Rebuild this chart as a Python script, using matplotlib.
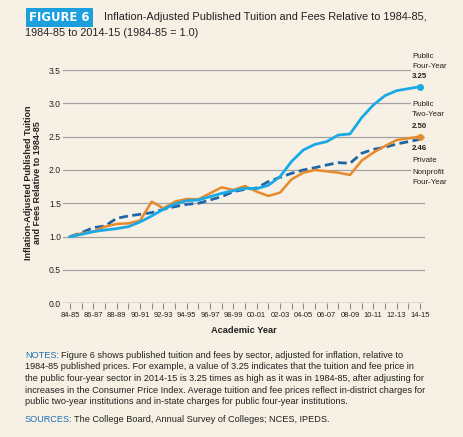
import numpy as np
import matplotlib.pyplot as plt

# --- data (1984-85 = 1.0) ---
years = ["84-85", "85-86", "86-87", "87-88", "88-89", "89-90", "90-91", "91-92",
         "92-93", "93-94", "94-95", "95-96", "96-97", "97-98", "98-99", "99-00",
         "00-01", "01-02", "02-03", "03-04", "04-05", "05-06", "06-07", "07-08",
         "08-09", "09-10", "10-11", "11-12", "12-13", "13-14", "14-15"]

public_four = [1.00, 1.035, 1.075, 1.10, 1.12, 1.15, 1.22, 1.31, 1.41, 1.49,
               1.54, 1.55, 1.60, 1.65, 1.69, 1.725, 1.72, 1.77, 1.90, 2.13,
               2.30, 2.385, 2.425, 2.525, 2.54, 2.785, 2.975, 3.115, 3.19, 3.22, 3.25]
public_two = [1.00, 1.05, 1.075, 1.15, 1.19, 1.20, 1.24, 1.525, 1.425, 1.525,
              1.565, 1.56, 1.65, 1.74, 1.70, 1.76, 1.675, 1.61, 1.66, 1.86,
              1.96, 2.00, 1.98, 1.96, 1.925, 2.14, 2.26, 2.36, 2.45, 2.475, 2.50]
private_nonprofit = [1.00, 1.06, 1.135, 1.16, 1.275, 1.31, 1.335, 1.36, 1.41, 1.45,
                     1.485, 1.50, 1.55, 1.60, 1.675, 1.71, 1.73, 1.825, 1.89, 1.95,
                     2.00, 2.035, 2.075, 2.11, 2.10, 2.25, 2.31, 2.34, 2.39, 2.425, 2.46]

bg = "#f7f1e5"
c_four = "#1ba9e6"
c_two = "#e8892b"
c_priv = "#1f66a6"
c_text = "#222222"
narrow = ["Liberation Sans Narrow", "Liberation Sans", "DejaVu Sans"]
regular = ["Liberation Sans", "DejaVu Sans"]

fig = plt.figure(figsize=(4.64, 4.37), dpi=100, facecolor=bg)
W, H = 464, 437
ax = fig.add_axes([63 / W, 1 - 303.3 / H, (425 - 63) / W, (303.3 - 70) / H])
ax.set_facecolor(bg)

x = np.arange(len(years))

for v in np.arange(0.5, 3.51, 0.5):
    ax.axhline(v, color="#a3a3a3", lw=0.9, zorder=1)
ax.axhline(0, color="#8a8a8a", lw=1.0, zorder=1)

ax.plot(x, private_nonprofit, color=c_priv, lw=2.0, dashes=(3.2, 1.6), zorder=3)
ax.plot(x, public_two, color=c_two, lw=1.8, zorder=4)
ax.plot(x, public_four, color=c_four, lw=2.0, zorder=5)
ax.plot(x[-1], public_four[-1], "o", color=c_four, ms=4, zorder=6, clip_on=False)
ax.plot(x[-1], public_two[-1], "o", color=c_two, ms=4, zorder=6, clip_on=False)

ax.set_xlim(-0.6, 30.43)
ax.set_ylim(0, 3.5)
for s in ax.spines.values():
    s.set_visible(False)

ax.set_xticks(x)
ax.set_xticklabels([y if i % 2 == 0 else "" for i, y in enumerate(years)],
                   family=narrow, fontsize=5.5, color=c_text)
ax.tick_params(axis="x", length=4, width=0.8, color="#8a8a8a", pad=2)
ax.set_yticks(np.arange(0, 3.51, 0.5))
ax.set_yticklabels([f"{v:.1f}" for v in np.arange(0, 3.51, 0.5)],
                   family=narrow, fontsize=6.2, color=c_text)
ax.tick_params(axis="y", length=0, pad=1.5)

ax.set_xlabel("Academic Year", family=narrow, fontsize=6.7, fontweight="bold",
              color=c_text, labelpad=5)
fig.text(33 / W, 1 - 183 / H,
         "Inflation-Adjusted Published Tuition\nand Fees Relative to 1984-85",
         rotation=90, ha="center", va="center", family=narrow, fontsize=6.5,
         fontweight="bold", color=c_text, linespacing=1.05)

# end labels
box = dict(facecolor=bg, edgecolor="none", pad=1)
lab_x = 412 / W
def end_label(y_px, txt, bold=False):
    fig.text(lab_x, 1 - y_px / H, txt, ha="left", va="center", family=narrow,
             fontsize=5.7, color=c_text, fontweight="bold" if bold else "normal",
             bbox=box, zorder=10)

end_label(56, "Public")
end_label(66.5, "Four-Year")
end_label(77, "3.25", True)
end_label(104, "Public")
end_label(115, "Two-Year")
end_label(127, "2.50", True)
end_label(149, "2.46", True)
end_label(161, "Private")
end_label(172, "Nonprofit")
end_label(183, "Four-Year")

# title
fig.text(29 / W, 1 - 17.5 / H, "FIGURE 6", ha="left", va="center", family="DejaVu Sans",
         fontsize=8.4, fontweight="bold", color="white",
         bbox=dict(facecolor="#1ba0dd", edgecolor="none", pad=2.4))
fig.text(104 / W, 1 - 17.5 / H,
         "Inflation-Adjusted Published Tuition and Fees Relative to 1984-85,",
         ha="left", va="center", family=regular, fontsize=7.9, color=c_text)
fig.text(25 / W, 1 - 33.5 / H, "1984-85 to 2014-15 (1984-85 = 1.0)",
         ha="left", va="center", family=regular, fontsize=7.8, color=c_text)

# notes
c_note = "#1d6fb3"
fs_note = 6.6
t = fig.text(25 / W, 1 - 355 / H, "NOTES:", ha="left", va="center",
             family=regular, fontsize=fs_note, color=c_note)
t2 = fig.text(25 / W, 1 - 420 / H, "SOURCES:", ha="left", va="center",
              family=regular, fontsize=fs_note, color=c_note)
note_lines = [
    "1984-85 published prices. For example, a value of 3.25 indicates that the tuition and fee price in",
    "the public four-year sector in 2014-15 is 3.25 times as high as it was in 1984-85, after adjusting for",
    "increases in the Consumer Price Index. Average tuition and fee prices reflect in-district charges for",
    "public two-year institutions and in-state charges for public four-year institutions.",
]
for k, line in enumerate(note_lines):
    fig.text(25 / W, 1 - (366.7 + 11.7 * k) / H, line, ha="left", va="center",
             family=regular, fontsize=fs_note, color=c_text)

fig.canvas.draw()
r = fig.canvas.get_renderer()
bb = t.get_window_extent(r)
fig.text(bb.x1 / fig.bbox.width + 2 / W, 1 - 355 / H,
         "Figure 6 shows published tuition and fees by sector, adjusted for inflation, relative to",
         ha="left", va="center", family=regular, fontsize=fs_note, color=c_text)
bb2 = t2.get_window_extent(r)
fig.text(bb2.x1 / fig.bbox.width + 1 / W, 1 - 420 / H,
         "The College Board, Annual Survey of Colleges; NCES, IPEDS.",
         ha="left", va="center", family=regular, fontsize=fs_note, color=c_text)

fig.savefig("out.png", dpi=100, facecolor=bg)
